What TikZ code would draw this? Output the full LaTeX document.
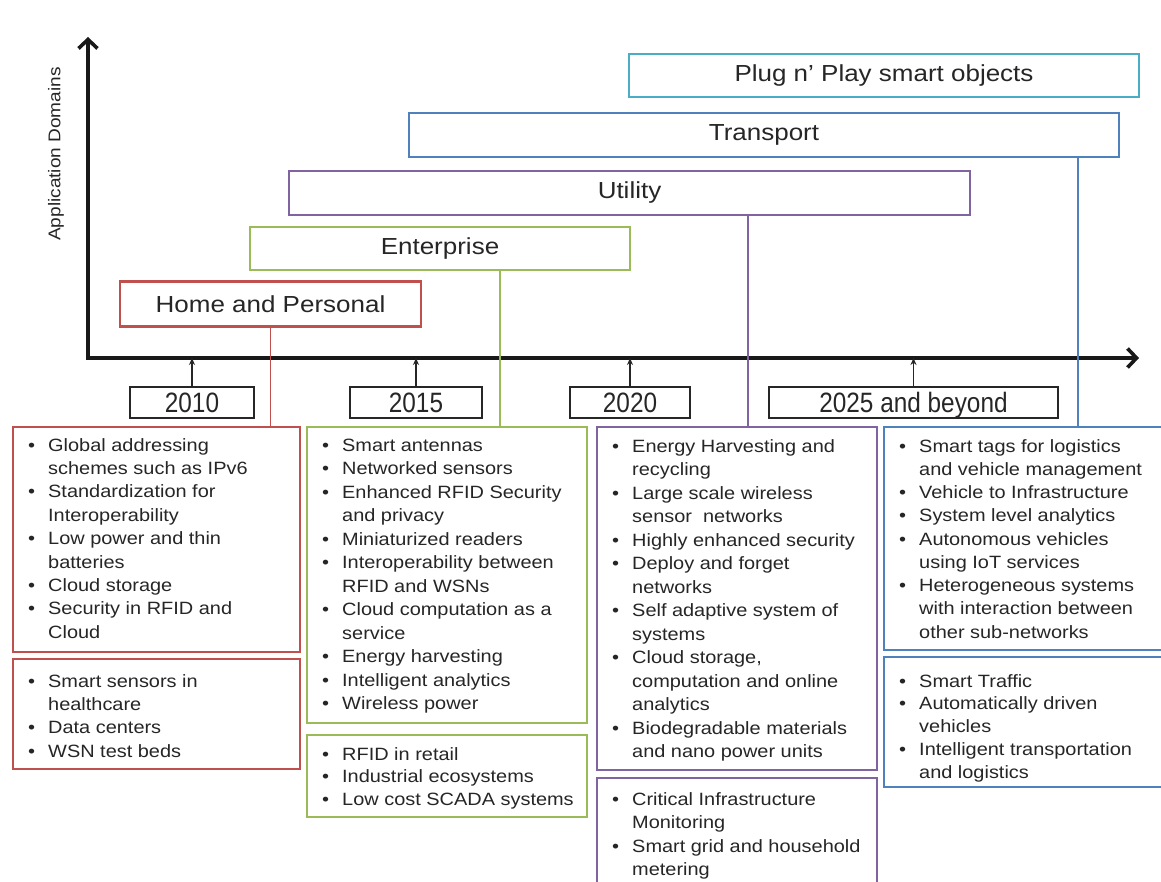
\documentclass[tikz,border=0pt]{standalone}
\usepackage{fontspec}
\setmainfont[FakeStretch=1.12]{Liberation Sans}
\newfontfamily\yearfont[FakeStretch=0.87]{Liberation Sans}
\usetikzlibrary{arrows.meta}

\definecolor{ink}{RGB}{38,38,38}
\definecolor{homered}{RGB}{192,80,77}
\definecolor{entgreen}{RGB}{155,187,89}
\definecolor{utilpurple}{RGB}{128,100,162}
\definecolor{transblue}{RGB}{79,129,189}
\definecolor{plugaqua}{RGB}{75,172,198}

% bullet and continuation indent for the item lists
\newcommand\bi{\makebox[20pt][l]{\textbullet}}
\newcommand\ci{\hspace*{20pt}}

\tikzset{
  panel/.style={draw=#1, line width=2.4pt, inner sep=0pt},
  domain/.style={draw=#1, line width=2.6pt, inner sep=0pt, text=ink,
    font=\fontsize{23.2}{26}\selectfont},
  yearbox/.style={draw=black!85, line width=1.8pt, inner sep=0pt,
    minimum height=31pt, text height=20pt, text depth=0pt, text=ink,
    font=\yearfont\fontsize{28}{30}\selectfont},
  % lists are placed by the baseline of their last line
  items/.style={anchor=base west, align=left, inner sep=0pt, text=ink,
    font=\fontsize{17.8}{#1}\selectfont},
  link/.style={draw=#1, line width=1.6pt},
  axisline/.style={line width=3.6pt, draw=black!90, line join=miter,
    {Straight Barb[length=9pt,width=19pt]}-{Straight Barb[length=9pt,width=19pt]}},
  tickline/.style={line width=1.6pt, draw=black!85,
    -{Stealth[length=7pt,width=6pt]}},
}

\begin{document}
\begin{tikzpicture}[x=1pt, y=-1pt]
\useasboundingbox (0,0) rectangle (1161,882);
\fill[white] (0,0) rectangle (1161,882);
\clip (0,0) rectangle (1161,882);

% axes
\coordinate (ytop) at (88,37);
\coordinate (orig) at (88,358);
\coordinate (xend) at (1139,358);
\draw[axisline] (ytop) -- (orig) -- (xend);
\node[rotate=90, text=ink, font=\fontsize{17}{20}\selectfont] (ylab) at (56,154) {Application Domains};

% application domains
\node[domain=plugaqua, minimum width=510pt, minimum height=43pt] (plug) at (884,75.5) {Plug n' Play smart objects};
\node[domain=transblue, minimum width=710pt, minimum height=44pt] (trans) at (764,135) {Transport};
\node[domain=utilpurple, minimum width=681pt, minimum height=44pt] (util) at (629.5,193) {Utility};
\node[domain=entgreen, minimum width=380pt, minimum height=43pt] (ent) at (440,248.5) {Enterprise};
\node[domain=homered, minimum width=301pt, minimum height=45pt] (home) at (270.5,304) {Home and Personal};

% time line
\node[yearbox, minimum width=124pt] (y10) at (192,402.5) {2010};
\node[yearbox, minimum width=132pt] (y15) at (416,402.5) {2015};
\node[yearbox, minimum width=120pt] (y20) at (630,402.5) {2020};
\node[yearbox, minimum width=289pt] (y25) at (913.5,402.5) {2025 and beyond};
\foreach \y in {y10,y15,y20,y25}
  \draw[tickline] (\y.north) -- (\y.north |- orig);

% panels
\node[panel=homered, minimum width=287pt, minimum height=225pt] (rtop) at (156.5,539.5) {};
\node[panel=homered, minimum width=287pt, minimum height=110pt] (rbot) at (156.5,714) {};
\node[panel=entgreen, minimum width=280pt, minimum height=296pt] (gtop) at (447,575) {};
\node[panel=entgreen, minimum width=280pt, minimum height=82pt] (gbot) at (447,776) {};
\node[panel=utilpurple, minimum width=280pt, minimum height=343pt] (ptop) at (737,598.5) {};
\node[panel=utilpurple, minimum width=280pt, minimum height=122pt] (pbot) at (737,839) {};
\node[panel=transblue, minimum width=282pt, minimum height=223pt] (btop) at (1025,538.5) {};
\node[panel=transblue, minimum width=282pt, minimum height=130pt] (bbot) at (1025,722) {};

% links from the domains to their panels
\draw[link=homered] (home.south) -- (home.south |- rtop.north);
\draw[link=entgreen] ([xshift=60pt]ent.south) -- ([xshift=60pt]ent.south |- gtop.north);
\draw[link=utilpurple] ([xshift=118.5pt]util.south) -- ([xshift=118.5pt]util.south |- ptop.north);
\draw[link=transblue] ([xshift=314pt]trans.south) -- ([xshift=314pt]trans.south |- btop.north);

% item lists
\node[items=23.4] (rtopt) at (28,638.2) {\bi Global addressing\\
\ci schemes such as IPv6\\
\bi Standardization for\\
\ci Interoperability\\
\bi Low power and thin\\
\ci batteries\\
\bi Cloud storage\\
\bi Security in RFID and\\
\ci Cloud};

\node[items=23.4] (rbott) at (28,757.2) {\bi Smart sensors in\\
\ci healthcare\\
\bi Data centers\\
\bi WSN test beds};

\node[items=23.5] (gtopt) at (322,709.5) {\bi Smart antennas\\
\bi Networked sensors\\
\bi Enhanced RFID Security\\
\ci and privacy\\
\bi Miniaturized readers\\
\bi Interoperability between\\
\ci RFID and WSNs\\
\bi Cloud computation as a\\
\ci service\\
\bi Energy harvesting\\
\bi Intelligent analytics\\
\bi Wireless power};

\node[items=22.5] (gbott) at (322,805) {\bi RFID in retail\\
\bi Industrial ecosystems\\
\bi Low cost SCADA systems};

\node[items=23.5] (ptopt) at (612,757.5) {\bi Energy Harvesting and\\
\ci recycling\\
\bi Large scale wireless\\
\ci sensor\ \ networks\\
\bi Highly enhanced security\\
\bi Deploy and forget\\
\ci networks\\
\bi Self adaptive system of\\
\ci systems\\
\bi Cloud storage,\\
\ci computation and online\\
\ci analytics\\
\bi Biodegradable materials\\
\ci and nano power units};

\node[items=23.5] (pbott) at (612,875.5) {\bi Critical Infrastructure\\
\ci Monitoring\\
\bi Smart grid and household\\
\ci metering};

\node[items=23.25] (btopt) at (899,638) {\bi Smart tags for logistics\\
\ci and vehicle management\\
\bi Vehicle to Infrastructure\\
\bi System level analytics\\
\bi Autonomous vehicles\\
\ci using IoT services\\
\bi Heterogeneous systems\\
\ci with interaction between\\
\ci other sub-networks};

\node[items=22.75] (bbott) at (899,778) {\bi Smart Traffic\\
\bi Automatically driven\\
\ci vehicles\\
\bi Intelligent transportation\\
\ci and logistics};
\end{tikzpicture}
\end{document}
